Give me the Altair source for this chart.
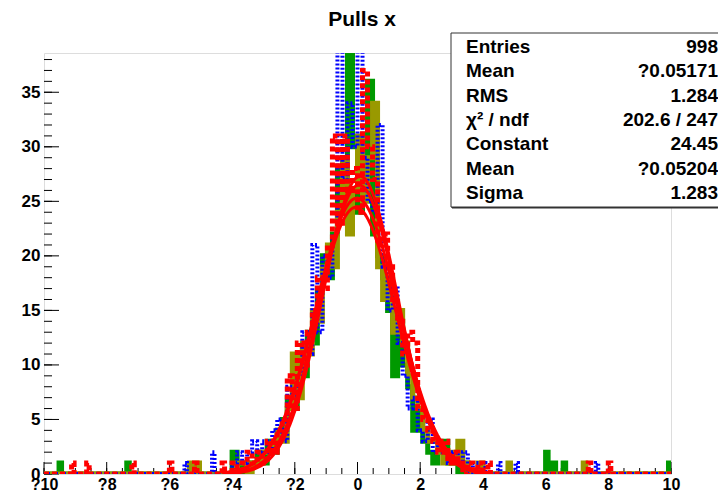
import altair as alt
import numpy as np
import pandas as pd

# ---------------- data ----------------
# core region -4 .. 4, 50 bins of width 0.16 (left edge -4 + 0.16*i)
green_core = [2, 1, 0, 1, 1, 2, 1, 3, 2, 4, 5, 7, 6, 10, 9, 13, 12, 17, 20, 18,
              22, 28, 26, 39.5, 30, 24, 27, 36, 22, 20, 18, 15, 9, 14, 10, 8, 4, 6, 3, 2,
              1, 2, 3, 1, 1, 0, 1, 0, 0, 0]
olive_core = [0, 1, 1, 0, 1, 1, 2, 2, 3, 4, 3, 6, 11, 7, 12, 11, 15, 14, 19, 21,
              19, 24, 29, 22, 26, 31, 25, 29, 34, 19, 16, 18, 13, 15, 12, 9, 7, 6, 4, 3,
              3, 2, 1, 2, 1, 3, 1, 0, 0, 1]
blue_core = [1, 2, 1, 2, 3, 2, 3, 2, 4, 5, 3, 8, 7, 9, 13, 11, 21, 13, 20, 18,
             22, 39.5, 27, 34, 30, 39.5, 29, 25, 24, 32, 19, 15, 17, 12, 9, 6, 7, 4, 3, 5,
             2, 3, 2, 1, 2, 1, 2, 0, 1, 1]
red_core = [1, 0, 1, 2, 1, 2, 1, 3, 2, 4, 5, 9, 6, 12, 10, 13, 15, 18, 17, 21,
            31, 23, 31, 26, 28, 24, 37, 30, 27, 21, 22, 19, 16, 14, 11, 13, 12, 6, 5, 4,
            3, 2, 3, 1, 2, 1, 0, 1, 0, 1]

# isolated entries in the tails (position, count)
green_out_x = [-9.5, -7.35, 6.05, 6.3, 6.6, 9.95]
green_out_n = [1, 1, 2, 1, 1, 1]
olive_out_x = [-5.35, -5.05, 4.8, 7.2]
olive_out_n = [1, 1, 1, 1]
blue_out_x = [-5.45, -4.6, 4.05, 4.55, 5.1, 7.65]
blue_out_n = [1, 2, 1, 1, 1, 1]
red_out_x = [-9.1, -8.6, -7.2, -6.0, -5.15, -4.3, 4.2, 7.4, 8.0]
red_out_n = [1, 1, 1, 1, 1, 1, 1, 1, 1]

# gaussian fit parameters
fit_const = [24.45, 26.5, 25.3, 27.3]
fit_mean = [-0.052, 0.05, -0.02, 0.08]
fit_sigma = [1.283, 1.22, 1.30, 1.18]

x_major = list(range(-10, 11, 2))
x_minor = [v / 2 for v in range(-20, 21)]
y_major = list(range(0, 36, 5))
y_minor = list(range(0, 39))

stats_labels = ["Entries", "Mean", "RMS", "χ² / ndf", "Constant", "Mean", "Sigma"]
stats_values = ["998", "?0.05171", "1.284", "202.6 / 247", "24.45", "?0.05204", "1.283"]

# ---------------- build tables ----------------
NB, BW, X0 = 250, 0.08, -10.0


def build(core, ox, on):
    arr = np.zeros(NB)
    for i, v in enumerate(core):
        arr[75 + 2 * i] = v
        arr[76 + 2 * i] = v
    for x, n in zip(ox, on):
        k = int(np.floor((x - X0) / BW))
        arr[min(k, NB - 1)] += n
    xs = [X0 + BW * k for k in range(NB)] + [10.0]
    ys = list(arr) + [arr[-1]]
    return pd.DataFrame({"x": xs, "y": ys})


W, H = 627, 421
TOP = 45
FONT = "Liberation Sans"

xs = alt.Scale(domain=[-10, 10], nice=False, zero=False)
ys = alt.Scale(domain=[0, 38.6], nice=False)
x_axis = alt.Axis(values=x_major, labelExpr="datum.value < 0 ? '?' + abs(datum.value) : '' + datum.value",
                  ticks=False, domain=False, grid=False, title=None, labelFont=FONT,
                  labelFontWeight="bold", labelFontSize=16, labelColor="black", labelPadding=2,
                  labelFlush=False)
y_axis = alt.Axis(values=y_major, ticks=False, domain=False, grid=False, title=None,
                  labelFont=FONT, labelFontWeight="bold", labelFontSize=17, labelColor="black",
                  labelPadding=4, labelFlush=False)
X = alt.X("x:Q", scale=xs, axis=x_axis)
Y = alt.Y("y:Q", scale=ys, axis=y_axis)

layers = []

# tick marks (inside the frame)
layers.append(alt.Chart(pd.DataFrame({"y": y_minor})).mark_rule(color="black", strokeWidth=1)
              .encode(y=Y, x=alt.value(0), x2=alt.value(8)))
layers.append(alt.Chart(pd.DataFrame({"y": y_major})).mark_rule(color="black", strokeWidth=1)
              .encode(y=Y, x=alt.value(0), x2=alt.value(15)))
layers.append(alt.Chart(pd.DataFrame({"x": x_minor})).mark_rule(color="black", strokeWidth=1)
              .encode(x=X, y=alt.value(H), y2=alt.value(H - 6)))
layers.append(alt.Chart(pd.DataFrame({"x": x_major})).mark_rule(color="black", strokeWidth=1)
              .encode(x=X, y=alt.value(H), y2=alt.value(H - 12)))

series = [
    (green_core, green_out_x, green_out_n, "#009900", 5, None),
    (olive_core, olive_out_x, olive_out_n, "#999900", 5, None),
    (blue_core, blue_out_x, blue_out_n, "#0000ff", 4, [2, 2]),
    (red_core, red_out_x, red_out_n, "#ff0000", 5, [5, 3]),
]
for core, ox, on, col, sw, dash in series:
    kw = dict(interpolate="step-after", color=col, strokeWidth=sw, clip=True)
    if dash:
        kw["strokeDash"] = dash
    layers.append(alt.Chart(build(core, ox, on)).mark_line(**kw).encode(x=X, y=Y))

# gaussian fit curves
gx = np.round(np.arange(-4.3, 4.3001, 0.05), 3)
for c, m, s in zip(fit_const, fit_mean, fit_sigma):
    df = pd.DataFrame({"x": gx, "y": c * np.exp(-0.5 * ((gx - m) / s) ** 2)})
    layers.append(alt.Chart(df).mark_line(color="#ff0000", strokeWidth=3, clip=True)
                  .encode(x=X, y=Y))

# statistics box
one = pd.DataFrame({"a": [0]})
BX, BY, BY2 = 407, -20, 154
layers.append(alt.Chart(one).mark_rect(fill="#333333", stroke="#333333", strokeWidth=1)
              .encode(x=alt.value(BX + 1), x2=alt.value(720), y=alt.value(BY + 1), y2=alt.value(BY2 + 1)))
layers.append(alt.Chart(one).mark_rect(fill="white", stroke="#333333", strokeWidth=1)
              .encode(x=alt.value(BX), x2=alt.value(718), y=alt.value(BY), y2=alt.value(BY2)))
for i, (lab, val) in enumerate(zip(stats_labels, stats_values)):
    yy = -6 + i * 24.3
    layers.append(alt.Chart(one).mark_text(align="left", baseline="middle", font=FONT,
                                           fontWeight="bold", fontSize=19, color="black")
                  .encode(x=alt.value(BX + 15), y=alt.value(yy), text=alt.value(lab)))
    layers.append(alt.Chart(one).mark_text(align="right", baseline="middle", font=FONT,
                                           fontWeight="bold", fontSize=19, color="black")
                  .encode(x=alt.value(674), y=alt.value(yy), text=alt.value(val)))

# title
layers.append(alt.Chart(one).mark_text(align="center", baseline="middle", font=FONT,
                                       fontWeight="bold", fontSize=21, color="black")
              .encode(x=alt.value(318), y=alt.value(-33), text=alt.value("Pulls x")))

chart = (alt.layer(*layers)
         .properties(width=W, height=H, autosize=alt.AutoSizeParams(type="none"),
                     padding={"left": 36, "top": TOP, "right": 47, "bottom": 486 - TOP - H})
         .configure_view(stroke="black", strokeWidth=1)
         .configure(background="white"))

chart.save("out.html", embed_options={"renderer": "svg", "actions": False})
